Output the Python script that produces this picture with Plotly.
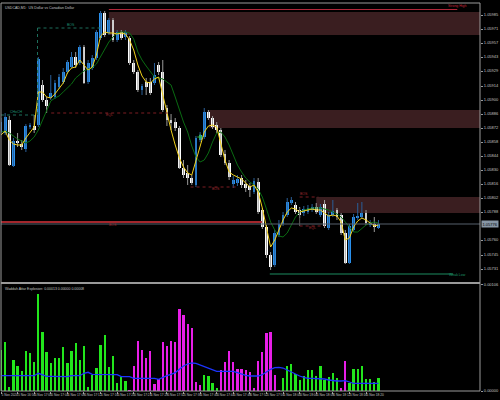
import plotly.graph_objects as go

# ---------------- data ----------------
bars = list(range(92))

open_ = [1.05868, 1.05867, 1.05880, 1.05834, 1.05859, 1.05856, 1.05851, 1.05873, 1.05874, 1.05875,
         1.05915, 1.05900, 1.05902, 1.05903, 1.05913, 1.05918, 1.05928, 1.05933, 1.05943, 1.05937,
         1.05953, 1.05918, 1.05932, 1.05942, 1.05962, 1.05987, 1.05967, 1.05980, 1.05960, 1.05968,
         1.05963, 1.05962, 1.05937, 1.05928, 1.05910, 1.05918, 1.05918, 1.05917, 1.05935, 1.05928,
         1.05892, 1.05880, 1.05878, 1.05872, 1.05832, 1.05827, 1.05822, 1.05815, 1.05860, 1.05863,
         1.05888, 1.05882, 1.05875, 1.05870, 1.05846, 1.05837, 1.05816, 1.05817, 1.05822, 1.05816,
         1.05814, 1.05808, 1.05818, 1.05790, 1.05773, 1.05745, 1.05735, 1.05765, 1.05776, 1.05785,
         1.05797, 1.05795, 1.05790, 1.05787, 1.05788, 1.05790, 1.05793, 1.05785, 1.05796, 1.05772,
         1.05785, 1.05790, 1.05785, 1.05767, 1.05737, 1.05770, 1.05782, 1.05783, 1.05787, 1.05775,
         1.05776, 1.05772]
high = [1.05882, 1.05887, 1.05884, 1.05862, 1.05867, 1.05860, 1.05876, 1.05877, 1.05885, 1.05943,
        1.05920, 1.05903, 1.05925, 1.05920, 1.05926, 1.05932, 1.05940, 1.05948, 1.05948, 1.05955,
        1.05955, 1.05940, 1.05945, 1.05970, 1.05989, 1.05989, 1.05982, 1.05982, 1.05970, 1.05970,
        1.05970, 1.05964, 1.05940, 1.05930, 1.05916, 1.05922, 1.05922, 1.05937, 1.05938, 1.05940,
        1.05895, 1.05886, 1.05882, 1.05874, 1.05840, 1.05835, 1.05825, 1.05864, 1.05868, 1.05892,
        1.05890, 1.05884, 1.05878, 1.05872, 1.05850, 1.05840, 1.05824, 1.05825, 1.05825, 1.05820,
        1.05817, 1.05822, 1.05822, 1.05792, 1.05775, 1.05748, 1.05770, 1.05780, 1.05788, 1.05802,
        1.05803, 1.05798, 1.05793, 1.05794, 1.05795, 1.05796, 1.05797, 1.05796, 1.05800, 1.05788,
        1.05800, 1.05792, 1.05787, 1.05770, 1.05776, 1.05786, 1.05797, 1.05798, 1.05790, 1.05780,
        1.05783, 1.05780]
low = [1.05865, 1.05865, 1.05834, 1.05833, 1.05853, 1.05850, 1.05848, 1.05871, 1.05867, 1.05873,
       1.05898, 1.05887, 1.05900, 1.05901, 1.05911, 1.05916, 1.05926, 1.05932, 1.05932, 1.05935,
       1.05916, 1.05916, 1.05930, 1.05940, 1.05960, 1.05963, 1.05965, 1.05958, 1.05958, 1.05960,
       1.05960, 1.05935, 1.05926, 1.05908, 1.05905, 1.05905, 1.05905, 1.05915, 1.05925, 1.05888,
       1.05874, 1.05870, 1.05869, 1.05831, 1.05822, 1.05815, 1.05815, 1.05813, 1.05858, 1.05861,
       1.05880, 1.05871, 1.05867, 1.05843, 1.05835, 1.05820, 1.05812, 1.05814, 1.05812, 1.05808,
       1.05803, 1.05806, 1.05786, 1.05771, 1.05742, 1.05730, 1.05733, 1.05763, 1.05774, 1.05783,
       1.05795, 1.05786, 1.05782, 1.05784, 1.05786, 1.05788, 1.05786, 1.05783, 1.05772, 1.05770,
       1.05783, 1.05780, 1.05765, 1.05736, 1.05736, 1.05768, 1.05780, 1.05781, 1.05775, 1.05773,
       1.05768, 1.05771]
close = [1.05878, 1.05883, 1.05835, 1.05859, 1.05857, 1.05853, 1.05874, 1.05875, 1.05870, 1.05941,
         1.05900, 1.05894, 1.05907, 1.05917, 1.05923, 1.05928, 1.05938, 1.05943, 1.05935, 1.05953,
         1.05917, 1.05937, 1.05942, 1.05968, 1.05987, 1.05965, 1.05980, 1.05960, 1.05968, 1.05962,
         1.05968, 1.05937, 1.05928, 1.05910, 1.05914, 1.05913, 1.05907, 1.05925, 1.05928, 1.05890,
         1.05880, 1.05877, 1.05872, 1.05832, 1.05825, 1.05822, 1.05817, 1.05862, 1.05865, 1.05888,
         1.05882, 1.05873, 1.05870, 1.05845, 1.05837, 1.05823, 1.05820, 1.05821, 1.05815, 1.05812,
         1.05810, 1.05819, 1.05788, 1.05773, 1.05745, 1.05733, 1.05767, 1.05776, 1.05785, 1.05798,
         1.05800, 1.05788, 1.05785, 1.05791, 1.05792, 1.05793, 1.05788, 1.05793, 1.05774, 1.05785,
         1.05789, 1.05783, 1.05767, 1.05737, 1.05774, 1.05783, 1.05784, 1.05787, 1.05777, 1.05777,
         1.05773, 1.05776]

ma_fast = [1.05865, 1.05869, 1.05860, 1.05856, 1.05855, 1.05855, 1.05862, 1.05868, 1.05873, 1.05908,
           1.05908, 1.05903, 1.05902, 1.05906, 1.05911, 1.05917, 1.05927, 1.05932, 1.05933, 1.05940,
           1.05935, 1.05930, 1.05933, 1.05945, 1.05964, 1.05968, 1.05967, 1.05967, 1.05966, 1.05967,
           1.05966, 1.05960, 1.05950, 1.05935, 1.05924, 1.05918, 1.05917, 1.05921, 1.05923, 1.05905,
           1.05888, 1.05870, 1.05855, 1.05842, 1.05833, 1.05827, 1.05825, 1.05840, 1.05855, 1.05868,
           1.05874, 1.05875, 1.05873, 1.05857, 1.05840, 1.05828, 1.05825, 1.05823, 1.05821, 1.05817,
           1.05813, 1.05815, 1.05808, 1.05792, 1.05772, 1.05753, 1.05760, 1.05771, 1.05780, 1.05788,
           1.05792, 1.05791, 1.05788, 1.05789, 1.05790, 1.05791, 1.05790, 1.05790, 1.05787, 1.05784,
           1.05785, 1.05784, 1.05778, 1.05760, 1.05762, 1.05773, 1.05779, 1.05782, 1.05780, 1.05777,
           1.05774, 1.05775]
ma_slow = [1.05868, 1.05869, 1.05867, 1.05864, 1.05861, 1.05859, 1.05857, 1.05859, 1.05863, 1.05870,
           1.05880, 1.05890, 1.05899, 1.05902, 1.05904, 1.05908, 1.05912, 1.05916, 1.05922, 1.05926,
           1.05929, 1.05931, 1.05932, 1.05936, 1.05943, 1.05950, 1.05958, 1.05963, 1.05967, 1.05968,
           1.05968, 1.05967, 1.05961, 1.05948, 1.05940, 1.05934, 1.05928, 1.05923, 1.05922, 1.05921,
           1.05918, 1.05915, 1.05903, 1.05890, 1.05878, 1.05868, 1.05854, 1.05843, 1.05838, 1.05840,
           1.05847, 1.05858, 1.05867, 1.05868, 1.05863, 1.05855, 1.05845, 1.05835, 1.05828, 1.05822,
           1.05818, 1.05815, 1.05811, 1.05803, 1.05791, 1.05778, 1.05770, 1.05764, 1.05763, 1.05767,
           1.05775, 1.05783, 1.05788, 1.05790, 1.05791, 1.05792, 1.05792, 1.05792, 1.05791, 1.05790,
           1.05788, 1.05786, 1.05783, 1.05778, 1.05773, 1.05768, 1.05768, 1.05772, 1.05775, 1.05777,
           1.05778, 1.05777]

explosion = [0.00041, 0.00049, 0.00004, 0.00031, 0.00025, 0.00020, 0.00040, 0.00038, 0.00029, 0.00097,
             0.00059, 0.00039, 0.00028, 0.00033, 0.00033, 0.00044, 0.00028, 0.00040, 0.00048, 0.00031,
             0.00045, 0.00004, 0.00016, 0.00023, 0.00046, 0.00056, 0.00024, 0.00035, 0.00008, 0.00014,
             0.00010, 0.00001, 0.00025, 0.00050, 0.00041, 0.00033, 0.00040, 0.00007, 0.00012, 0.00049,
             0.00045, 0.00050, 0.00049, 0.00082, 0.00076, 0.00067, 0.00063, 0.00009, 0.00006, 0.00016,
             0.00015, 0.00008, 0.00003, 0.00021, 0.00029, 0.00040, 0.00029, 0.00022, 0.00022, 0.00021,
             0.00019, 0.00003, 0.00030, 0.00039, 0.00058, 0.00059, 0.00016, 0.00001, 0.00013, 0.00025,
             0.00027, 0.00017, 0.00011, 0.00015, 0.00021, 0.00021, 0.00015, 0.00025, 0.00011, 0.00014,
             0.00018, 0.00013, 0.00003, 0.00030, 0.00008, 0.00022, 0.00022, 0.00025, 0.00012, 0.00012,
             0.00009, 0.00013]
trend = (["up"] * 31 + ["down"] * 18 + ["up"] * 4 + ["down"] * 15 + ["up"] * 14
         + ["down"] * 2 + ["up"] * 8)
dead_zone = [0.000153, 0.000153, 0.000153, 0.000153, 0.000153, 0.000153, 0.000153, 0.000153, 0.000153, 0.000177,
             0.000163, 0.000147, 0.000147, 0.000147, 0.000143, 0.000143, 0.000143, 0.000153, 0.000153, 0.000153,
             0.000177, 0.000187, 0.000167, 0.000167, 0.000167, 0.000163, 0.000163, 0.000163, 0.000163, 0.000143,
             0.000143, 0.000143, 0.000127, 0.000127, 0.000127, 0.000127, 0.000127, 0.000127, 0.000117, 0.000137,
             0.000153, 0.000167, 0.000183, 0.000217, 0.000250, 0.000270, 0.000280, 0.000277, 0.000260, 0.000243,
             0.000227, 0.000210, 0.000197, 0.000197, 0.000197, 0.000197, 0.000197, 0.000183, 0.000167, 0.000157,
             0.000150, 0.000150, 0.000150, 0.000163, 0.000190, 0.000217, 0.000233, 0.000237, 0.000230, 0.000210,
             0.000190, 0.000167, 0.000150, 0.000137, 0.000127, 0.000127, 0.000127, 0.000127, 0.000120, 0.000110,
             0.000103, 0.000100, 0.000100, 0.000103, 0.000090, 0.000077, 0.000077, 0.000077, 0.000077, 0.000077,
             0.000077, 0.000077]

price_ticks = [1.05985, 1.05971, 1.05957, 1.05943, 1.05929, 1.05914, 1.05900, 1.05886, 1.05872, 1.05858,
               1.05844, 1.05830, 1.05816, 1.05802, 1.05788, 1.05760, 1.05745, 1.05731]
time_tick_bars = [0, 4, 8, 12, 16, 20, 24, 28, 32, 36, 40, 44, 48, 52, 56, 60, 64, 68, 72, 76, 80, 84, 88]
time_labels = ["5 Nov 2024", "5 Nov 16:56", "5 Nov 17:00", "5 Nov 17:04", "5 Nov 17:08", "5 Nov 17:12",
               "5 Nov 17:16", "5 Nov 17:20", "5 Nov 17:24", "5 Nov 17:28", "5 Nov 17:32", "5 Nov 17:36",
               "5 Nov 17:40", "5 Nov 17:44", "5 Nov 17:48", "5 Nov 17:52", "5 Nov 17:56", "5 Nov 18:00",
               "5 Nov 18:04", "5 Nov 18:08", "5 Nov 18:12", "5 Nov 18:16", "5 Nov 18:20"]
current_price = 1.05776

# supply zones: (start bar, bottom, top)
zones = [(26.0, 1.05965, 1.05988), (50.2, 1.05872, 1.05890), (76.0, 1.05787, 1.05803)]

# ---------------- styling ----------------
BG = "black"
FRAME = "#9a9a9a"
TXT = "#c4c4c4"
FONT = "Liberation Sans"
BULL = "#2a90ec"
BEAR = "#ffffff"
ZONE = "#3a1e20"
XMAX = 115.48

fig = go.Figure()

# wicks
for kind, col in (("bull", "#2a5f98"), ("bear", "#9a9a9a")):
    xs, ys = [], []
    for i in bars:
        is_bull = close[i] >= open_[i]
        if (kind == "bull") == is_bull:
            xs += [i, i, None]
            ys += [low[i], high[i], None]
    fig.add_trace(go.Scatter(x=xs, y=ys, mode="lines", line=dict(color=col, width=1),
                             hoverinfo="skip", showlegend=False, xaxis="x", yaxis="y"))

# bodies
body_base = [min(o, c) for o, c in zip(open_, close)]
body_h = [max(abs(c - o), 0.00001) for o, c in zip(open_, close)]
body_col = [BULL if c >= o else BEAR for o, c in zip(open_, close)]
fig.add_trace(go.Bar(x=bars, y=body_h, base=body_base, width=0.68,
                     marker=dict(color=body_col, line=dict(width=0)),
                     hoverinfo="skip", showlegend=False, xaxis="x", yaxis="y"))

# moving averages
fig.add_trace(go.Scatter(x=bars, y=ma_slow, mode="lines", line=dict(color="#0a6b12", width=1),
                         hoverinfo="skip", showlegend=False, xaxis="x", yaxis="y"))
fig.add_trace(go.Scatter(x=bars, y=ma_fast, mode="lines", line=dict(color="#f2d21b", width=1),
                         hoverinfo="skip", showlegend=False, xaxis="x", yaxis="y"))
fig.add_trace(go.Scatter(x=[48], y=[1.05863], mode="markers",
                         marker=dict(symbol="cross-thin", size=4, line=dict(color="#2fbf2f", width=1)),
                         hoverinfo="skip", showlegend=False, xaxis="x", yaxis="y"))

# indicator panel
vol_col = ["#22e61c" if t == "up" else "#e81ee8" for t in trend]
fig.add_trace(go.Bar(x=bars, y=explosion, width=0.55, marker=dict(color=vol_col, line=dict(width=0)),
                     hoverinfo="skip", showlegend=False, xaxis="x2", yaxis="y2"))
fig.add_trace(go.Scatter(x=bars, y=dead_zone, mode="lines", line=dict(color="#1c34ff", width=1.3),
                         hoverinfo="skip", showlegend=False, xaxis="x2", yaxis="y2"))

shapes = []
for x0, y0, y1 in zones:
    shapes.append(dict(type="rect", xref="x", yref="y", x0=x0, x1=XMAX, y0=y0, y1=y1,
                       fillcolor=ZONE, line=dict(width=0), layer="below"))


def hline(y, x0, x1, color, width=1, dash="solid"):
    shapes.append(dict(type="line", xref="x", yref="y", x0=x0, x1=x1, y0=y, y1=y,
                       line=dict(color=color, width=width, dash=dash)))


def vline(x, y0, y1, color, width=1, dash="solid"):
    shapes.append(dict(type="line", xref="x", yref="y", x0=x, x1=x, y0=y0, y1=y1,
                       line=dict(color=color, width=width, dash=dash)))


hline(1.059905, 26.0, 110.0, "#b0283a", 1)
hline(current_price, 0, XMAX, "#56616c", 1)
hline(1.05778, 0, 62.9, "#a3262c", 2)
hline(1.05972, 8.8, 24.0, "#1d6f5c", 1, "dot")
vline(8.8, 1.05885, 1.05972, "#1d6f5c", 1, "dot")
hline(1.05885, 0, 8.3, "#1d6f5c", 1, "dot")
hline(1.05887, 12.1, 40.2, "#7d1d22", 1, "dot")
hline(1.05813, 45.7, 56.9, "#7d1d22", 1, "dot")
hline(1.05803, 72.0, 76.5, "#7d1d22", 1, "dot")
hline(1.05774, 72.0, 78.0, "#7d1d22", 1, "dot")
vline(72.0, 1.05774, 1.05792, "#5a5a5a", 1)
hline(1.05726, 64.8, 109.0, "#0e4630", 2)

# frame lines (paper)
SEP = 0.2784
for (x0, x1, y0, y1, w) in [(0, 1, 1, 1, 1), (0, 1, SEP, SEP, 2), (0, 1, 0, 0, 1),
                            (0, 0, 0, 1, 1), (1, 1, 0, 1, 1)]:
    shapes.append(dict(type="line", xref="paper", yref="paper", x0=x0, x1=x1, y0=y0, y1=y1,
                       line=dict(color=FRAME, width=w)))

ann = []


def label(x, y, text, color, xanchor="center"):
    ann.append(dict(x=x, y=y, xref="x", yref="y", text=text, showarrow=False, xanchor=xanchor,
                    yanchor="middle", font=dict(size=3.5, color=color, family=FONT)))


label(110.1, 1.05994, "Strong High", "#c2283a")
label(110.1, 1.05725, "Weak Low", "#1f9a6a")
label(16.9, 1.05975, "BOS", "#1f8f74")
label(3.8, 1.05888, "CHoCH", "#1f8f74")
label(26.1, 1.05885, "EQL", "#a02a30")
label(26.9, 1.05775, "BOS", "#a02a30")
label(51.9, 1.05811, "BOS", "#a02a30")
label(73.1, 1.05806, "BOS", "#a02a30")
label(75.0, 1.05772, "EQL", "#a02a30")

ann.append(dict(x=0, y=1, xref="paper", yref="paper", xanchor="left", yanchor="top", xshift=2, yshift=-1,
                text="USDCAD,M1:  US Dollar vs Canadian Dollar", showarrow=False,
                font=dict(size=3.5, color=TXT, family=FONT)))
ann.append(dict(x=0, y=SEP, xref="paper", yref="paper", xanchor="left", yanchor="top", xshift=2, yshift=-2,
                text="Waddah Attar Explosion: 0.00013 0.00000 0.00008", showarrow=False,
                font=dict(size=3.5, color=TXT, family=FONT)))
ann.append(dict(x=1, y=current_price, xref="paper", yref="y", xanchor="left", yanchor="middle", xshift=1,
                text="%.5f" % current_price, showarrow=False, bgcolor="#8796a5", borderpad=0.5,
                font=dict(size=4, color="black", family=FONT)))

fig.update_layout(
    width=500, height=400, paper_bgcolor=BG, plot_bgcolor=BG,
    margin=dict(l=1, r=14, t=3, b=9), barmode="overlay", bargap=0,
    showlegend=False, shapes=shapes, annotations=ann,
    font=dict(family=FONT, color=TXT, size=4),
    xaxis=dict(domain=[0, 1], range=[0, XMAX], anchor="y", showticklabels=False, showgrid=False,
               zeroline=False, showline=False, ticks=""),
    xaxis2=dict(domain=[0, 1], range=[0, XMAX], anchor="y2", matches="x", showgrid=False, zeroline=False,
                showline=False, tickvals=time_tick_bars, ticktext=time_labels, ticks="outside",
                ticklen=2, tickcolor=FRAME, ticklabelposition="outside right", tickangle=0,
                tickfont=dict(size=3.2, color=TXT, family=FONT)),
    yaxis=dict(domain=[0.2835, 1], range=[1.05719, 1.05997], side="right", anchor="x", showgrid=False,
               zeroline=False, showline=False, tickvals=price_ticks,
               ticktext=["%.5f" % v for v in price_ticks], ticks="outside", ticklen=2, tickcolor=FRAME,
               tickfont=dict(size=4, color=TXT, family=FONT)),
    yaxis2=dict(domain=[0, SEP], range=[0, 0.00108], side="right", anchor="x2", showgrid=False,
                zeroline=False, showline=False, tickvals=[0.0, 0.00106], ticktext=["0.00000", "0.00106"],
                ticks="outside", ticklen=2, tickcolor=FRAME, tickfont=dict(size=4, color=TXT, family=FONT)),
)

fig.write_html("out.html", config={"displayModeBar": False},
               post_script="document.body.style.margin='0';document.body.style.background='black';")
